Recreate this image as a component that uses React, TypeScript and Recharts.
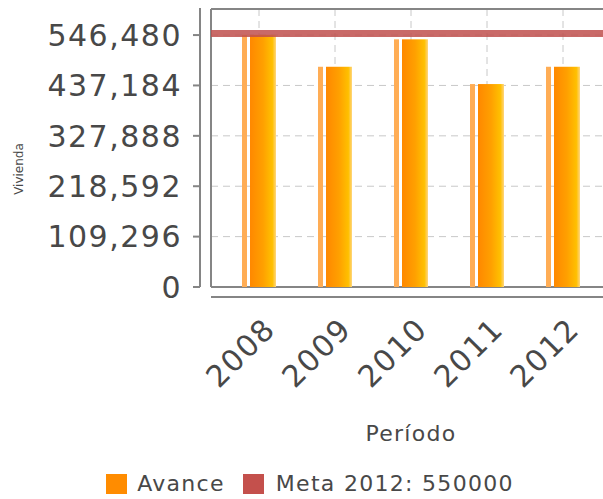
import React from 'react';
import { ComposedChart, Bar, XAxis, YAxis, CartesianGrid, ReferenceLine, Legend } from 'recharts';

const periods = ['2008', '2009', '2010', '2011', '2012'];
const avance = [547000, 477700, 537200, 440200, 477700];
const META = 550000;
const META_LABEL = 'Meta 2012: 550000';
const yTicks = [0, 109296, 218592, 327888, 437184, 546480];
const Y_MAX = 603000;

const data = periods.map((p, i) => ({ periodo: p, avance: avance[i] }));

const FONT = '"DejaVu Sans", Verdana, sans-serif';
const AXIS_GRAY = '#858585';
const TEXT = '#484848';

const fmt = (v: number) => v.toLocaleString('en-US');

const YTick = (props: any) => {
  const { x, y, payload } = props;
  return (
    <g>
      <line x1={x - 18} x2={x - 11} y1={y} y2={y} stroke={AXIS_GRAY} strokeWidth={2} />
      <text x={x - 29} y={y} dy="0.36em" textAnchor="end" fontFamily={FONT} fontSize={30} letterSpacing={1.5} fill={TEXT}>
        {fmt(payload.value)}
      </text>
    </g>
  );
};

const XTick = (props: any) => {
  const { x, y, payload } = props;
  return (
    <text transform={`translate(${x + 18},${y + 44}) rotate(-45)`} textAnchor="end" fontFamily={FONT} fontSize={30} letterSpacing={1.5} fill={TEXT}>
      {payload.value}
    </text>
  );
};

const YAxisDecor = (props: any) => {
  const vb = props.viewBox || { x: 0, y: 9, width: 211, height: 278 };
  const lx = vb.x + vb.width - 11;
  return (
    <g>
      <line x1={lx} x2={lx} y1={vb.y - 1} y2={vb.y + vb.height} stroke={AXIS_GRAY} strokeWidth={2} />
      <text transform={`translate(23, ${vb.y + vb.height / 2 + 21}) rotate(-90)`} textAnchor="middle" fontFamily={FONT} fontSize={12} fill={TEXT}>
        Vivienda
      </text>
    </g>
  );
};

const XAxisDecor = (props: any) => {
  const vb = props.viewBox || { x: 211, y: 287, width: 400, height: 182 };
  return (
    <g>
      <line x1={vb.x} x2={vb.x + vb.width} y1={vb.y + 10} y2={vb.y + 10} stroke={AXIS_GRAY} strokeWidth={2} />
      <text x={vb.x + vb.width / 2} y={vb.y + 154} textAnchor="middle" fontFamily={FONT} fontSize={22} letterSpacing={1.3} fill={TEXT}>
        Período
      </text>
    </g>
  );
};

const BarShape = (props: any) => {
  const { x, y, width, height, index } = props;
  if (!height || height <= 0) return null;
  const id = `barGrad${index}`;
  const stripW = 5;
  const gap = 3;
  return (
    <g>
      <defs>
        <linearGradient id={id} x1="0" y1="0" x2="1" y2="0">
          <stop offset="0" stopColor="#ff8800" />
          <stop offset="0.5" stopColor="#ffa000" />
          <stop offset="0.86" stopColor="#ffc000" />
          <stop offset="1" stopColor="#ffd680" />
        </linearGradient>
      </defs>
      <rect x={x} y={y} width={stripW} height={height} fill="#ffad55" />
      <rect x={x + stripW + gap} y={y} width={width - stripW - gap} height={height} fill={`url(#${id})`} />
    </g>
  );
};

const LegendContent = () => (
  <div style={{ display: 'flex', justifyContent: 'center', alignItems: 'center', fontFamily: FONT, fontSize: 22, letterSpacing: 1.3, color: TEXT, height: 29 }}>
    <span style={{ width: 21, height: 20, background: '#ff8c00', display: 'inline-block', marginRight: 10 }} />
    <span style={{ marginRight: 18 }}>Avance</span>
    <span style={{ width: 21, height: 20, background: '#c4504c', display: 'inline-block', marginRight: 12 }} />
    <span>{META_LABEL}</span>
  </div>
);

export default function App() {
  return (
    <div style={{ position: 'fixed', left: 0, top: 0, width: 603, height: 499, overflow: 'hidden', background: '#fff' }}>
      <ComposedChart width={615} height={499} data={data} margin={{ top: 9, right: 4, bottom: 0, left: 0 }}>
        <CartesianGrid stroke="#c8c8c8" strokeDasharray="7 5" strokeWidth={1} />
        <CartesianGrid
          stroke={AXIS_GRAY}
          strokeWidth={2}
          horizontalCoordinatesGenerator={(args: any) => [args.offset.top, args.offset.top + args.offset.height]}
          verticalCoordinatesGenerator={(args: any) => [args.offset.left]}
        />
        <XAxis
          dataKey="periodo"
          height={182}
          padding={{ left: 10, right: 10 }}
          axisLine={false}
          tickLine={false}
          tickSize={0}
          tickMargin={0}
          interval={0}
          tick={<XTick />}
          label={<XAxisDecor />}
        />
        <YAxis
          type="number"
          width={211}
          domain={[0, Y_MAX]}
          ticks={yTicks}
          interval={0}
          axisLine={false}
          tickLine={false}
          tickSize={0}
          tickMargin={0}
          tick={<YTick />}
          label={<YAxisDecor />}
        />
        <Legend verticalAlign="bottom" height={30} content={<LegendContent />} wrapperStyle={{ left: 0, width: 620 }} />
        <Bar dataKey="avance" barSize={34} shape={<BarShape />} isAnimationActive={false} />
        <ReferenceLine y={META} stroke="#c0504d" strokeOpacity={0.85} strokeWidth={7} />
      </ComposedChart>
    </div>
  );
}
